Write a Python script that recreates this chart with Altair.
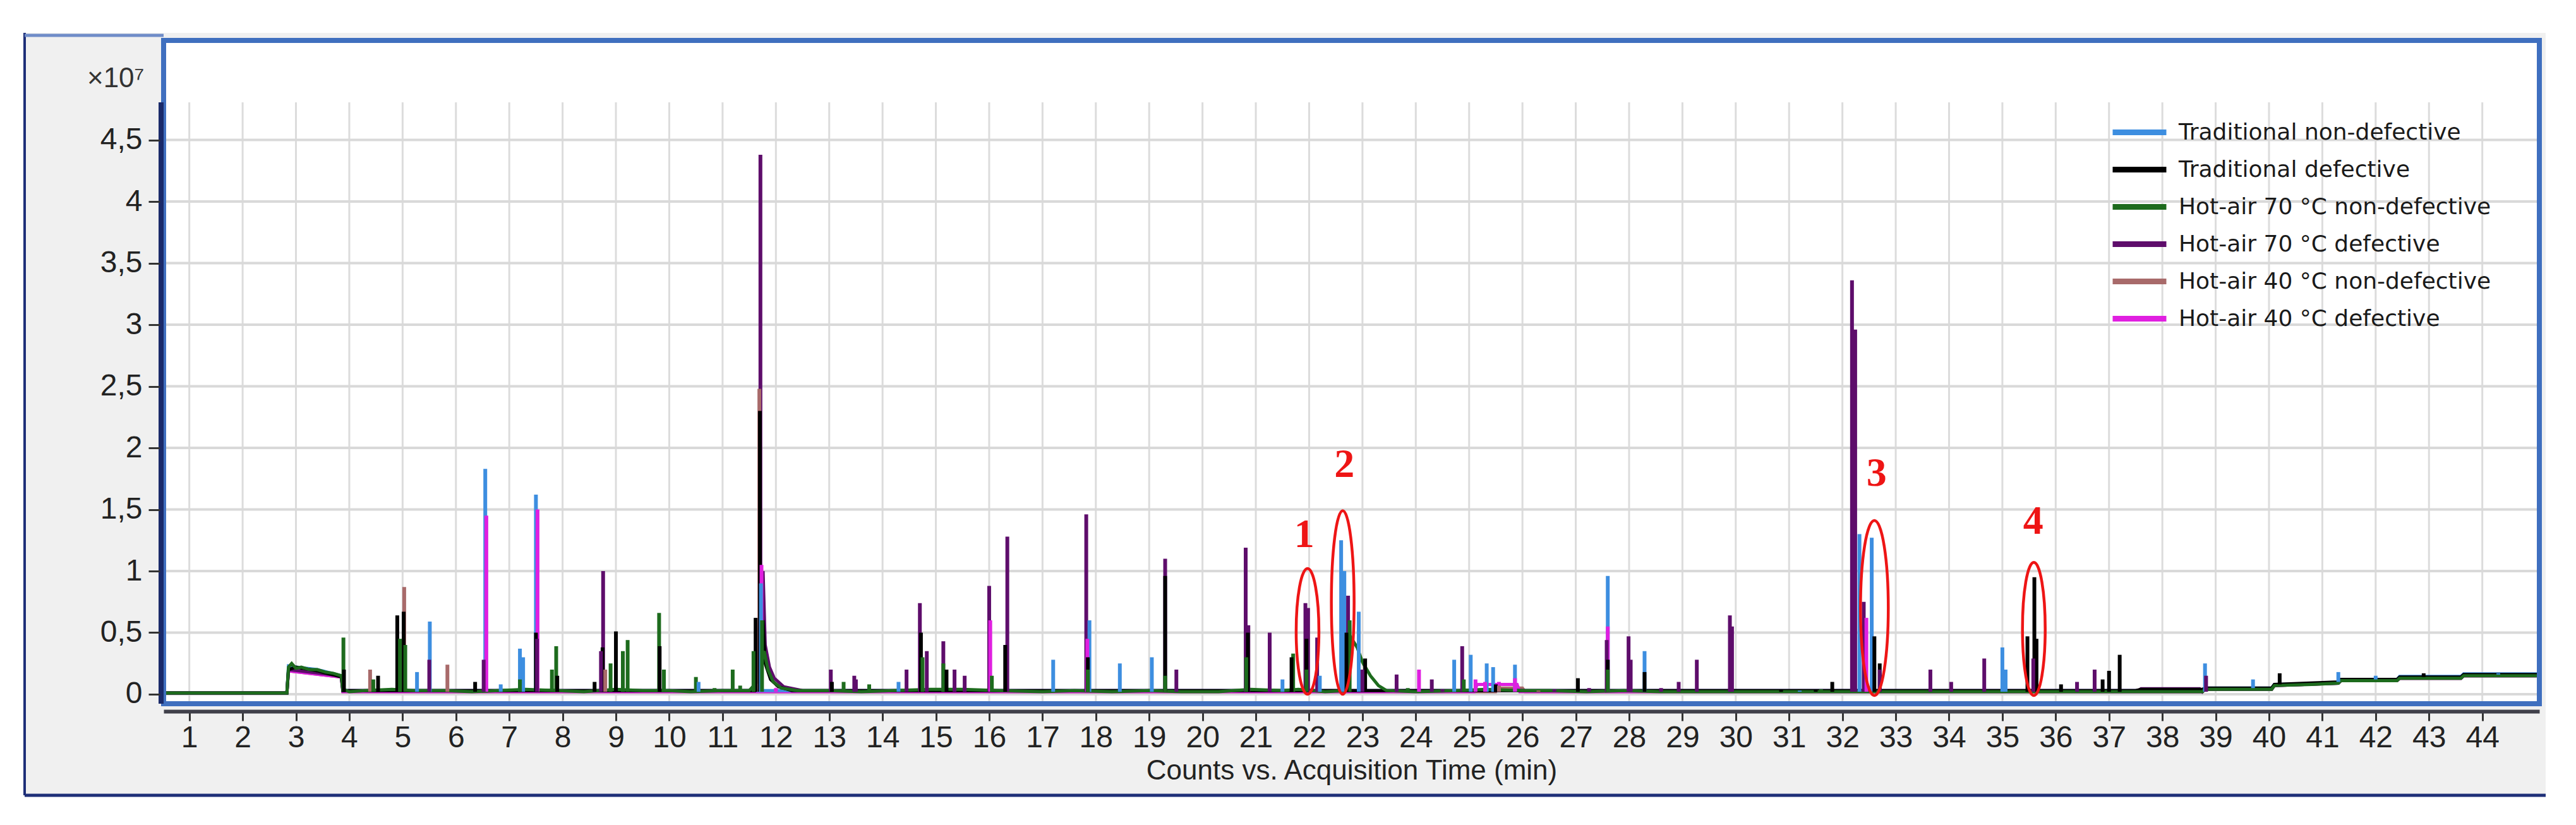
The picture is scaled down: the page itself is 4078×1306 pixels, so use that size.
import altair as alt
import pandas as pd

# ---------------- data ----------------
series_names = [
    "Traditional non-defective",
    "Traditional defective",
    "Hot-air 70 °C non-defective",
    "Hot-air 70 °C defective",
    "Hot-air 40 °C non-defective",
    "Hot-air 40 °C defective",
]
series_colors = ["#3d8ee0", "#000000", "#1d6b1d", "#5e0d6b", "#a86a6a", "#e01fe0"]
codes = ["TN", "TD", "H70N", "H70D", "H40N", "H40D"]

x_ticks = list(range(1, 45))
y_ticks = [0, 0.5, 1, 1.5, 2, 2.5, 3, 3.5, 4, 4.5]

# baseline traces (time min, counts x1e7)
base_H70N = [(0.52, 0.01), (2.83, 0.01), (2.86, 0.22), (2.92, 0.25), (3.0, 0.21), (3.1, 0.22), (3.25, 0.2),
             (3.4, 0.2), (3.55, 0.18), (3.7, 0.17), (3.85, 0.15), (3.88, 0.04), (4.0, 0.02), (4.3, 0.03),
             (4.8, 0.04), (5.2, 0.03), (5.8, 0.03), (6.3, 0.02), (6.8, 0.03), (7.3, 0.04), (7.9, 0.03),
             (8.4, 0.02), (9.0, 0.04), (9.5, 0.03), (10.0, 0.03), (10.4, 0.02), (11.0, 0.03), (11.5, 0.03),
             (11.65, 0.1), (11.78, 0.35), (11.85, 0.2), (11.95, 0.1), (12.1, 0.05), (12.4, 0.03), (13.0, 0.03),
             (13.6, 0.02), (14.2, 0.03), (14.9, 0.04), (15.5, 0.04), (16.2, 0.03), (17.0, 0.02), (17.6, 0.03),
             (18.3, 0.02), (19.0, 0.03), (19.6, 0.02), (20.3, 0.02), (20.9, 0.04), (21.5, 0.03), (21.8, 0.04),
             (22.3, 0.02), (22.7, 0.03), (22.8, 0.45), (22.9, 0.38), (23.0, 0.26), (23.15, 0.15), (23.3, 0.07),
             (23.45, 0.03), (24.0, 0.02), (24.8, 0.03), (25.3, 0.04), (26.0, 0.03), (26.5, 0.03), (27.2, 0.02),
             (27.9, 0.03), (28.6, 0.02), (29.4, 0.02), (30.2, 0.02), (31.0, 0.02), (31.8, 0.02), (32.5, 0.02),
             (33.3, 0.02), (34.0, 0.02), (35.0, 0.02), (36.0, 0.02), (37.0, 0.02), (37.8, 0.02), (38.75, 0.02),
             (38.8, 0.04), (40.05, 0.04), (40.1, 0.07), (40.8, 0.08), (41.3, 0.09), (41.35, 0.11), (42.4, 0.11),
             (42.45, 0.13), (43.6, 0.13), (43.65, 0.15), (45.07, 0.15)]
base_TD = [(0.52, 0.01), (2.83, 0.01), (2.86, 0.2), (3.0, 0.22), (3.4, 0.19), (3.85, 0.14), (3.88, 0.03),
           (11.6, 0.03), (11.76, 0.6), (11.8, 0.25), (11.9, 0.12), (12.05, 0.06), (12.3, 0.03), (37.5, 0.03),
           (37.6, 0.04), (38.75, 0.04), (38.8, 0.05), (40.05, 0.05), (40.1, 0.08), (41.3, 0.1), (41.35, 0.12),
           (42.4, 0.12), (42.45, 0.14), (43.6, 0.14), (43.65, 0.16), (45.07, 0.16)]
base_TN = [(0.52, 0.01), (2.83, 0.01), (2.86, 0.23), (3.0, 0.22), (3.4, 0.2), (3.85, 0.15), (3.88, 0.03),
           (38.75, 0.03), (38.8, 0.05), (40.05, 0.05), (40.1, 0.08), (41.3, 0.09), (41.35, 0.12), (42.4, 0.12),
           (42.45, 0.145), (43.6, 0.145), (43.65, 0.165), (45.07, 0.165)]
base_H70D = [(0.52, 0.01), (2.83, 0.01), (2.86, 0.2), (3.85, 0.15), (3.88, 0.03), (11.6, 0.03), (11.76, 1.0),
             (11.8, 0.4), (11.88, 0.22), (11.97, 0.13), (12.15, 0.06), (12.5, 0.03), (37.55, 0.03), (37.6, 0.045),
             (38.7, 0.045), (38.75, 0.02), (38.8, 0.04), (40.05, 0.04), (40.1, 0.07), (41.3, 0.09), (41.35, 0.11),
             (42.4, 0.11), (42.45, 0.13), (43.6, 0.13), (43.65, 0.15), (45.07, 0.15)]
base_H40N = [(0.52, 0.01), (2.83, 0.01), (2.86, 0.19), (3.85, 0.14), (3.88, 0.02), (25.5, 0.02), (25.55, 0.05),
             (26.0, 0.05), (26.05, 0.02), (38.75, 0.02), (38.8, 0.04), (40.05, 0.04), (40.1, 0.07), (41.3, 0.09),
             (41.35, 0.11), (42.4, 0.11), (42.45, 0.13), (43.6, 0.13), (43.65, 0.15), (45.07, 0.15)]
base_H40D = [(0.52, 0.01), (2.83, 0.01), (2.86, 0.19), (3.85, 0.14), (3.88, 0.02), (25.1, 0.02), (25.15, 0.08),
             (25.9, 0.08), (25.95, 0.02), (38.75, 0.02), (38.8, 0.04), (40.05, 0.04), (40.1, 0.07), (41.3, 0.09),
             (41.35, 0.11), (42.4, 0.11), (42.45, 0.13), (43.6, 0.13), (43.65, 0.15), (45.07, 0.15)]

# peaks: (time, apex, foot)
peaks_TN = [(5.27, 0.18), (5.51, 0.59), (6.55, 1.83), (6.84, 0.08), (7.2, 0.37), (7.26, 0.3), (7.5, 1.62),
            (10.55, 0.1), (11.72, 0.9), (14.3, 0.1), (17.2, 0.28), (17.88, 0.6), (18.45, 0.25), (19.05, 0.3),
            (21.5, 0.12), (22.2, 0.15), (22.6, 1.25), (22.66, 1.0), (22.93, 0.67), (24.72, 0.28), (25.03, 0.32),
            (25.33, 0.25), (25.45, 0.22), (25.86, 0.24), (27.6, 0.96), (28.29, 0.35), (31.2, 0.03),
            (32.32, 1.3), (32.55, 1.27), (35.0, 0.38), (35.06, 0.2), (38.8, 0.25), (39.7, 0.12, 0.05),
            (41.3, 0.18, 0.1), (42.0, 0.15, 0.12), (44.3, 0.17, 0.16)]
peaks_TD = [(3.9, 0.2), (4.54, 0.15), (4.9, 0.64), (5.02, 0.67), (6.36, 0.1), (7.5, 0.5), (7.9, 0.15),
            (8.6, 0.1), (8.75, 0.38), (9.0, 0.51), (9.82, 0.39), (11.62, 0.62), (11.7, 2.3), (13.05, 0.1),
            (14.72, 0.5), (15.2, 0.2), (16.3, 0.4), (17.85, 0.3), (19.3, 0.96), (20.85, 0.5), (21.67, 0.3),
            (21.95, 0.45), (22.7, 0.5), (23.05, 0.29), (25.5, 0.08), (27.04, 0.13), (27.6, 0.28), (28.29, 0.18),
            (30.85, 0.04), (31.5, 0.04), (31.81, 0.1), (32.6, 0.47), (32.7, 0.25), (35.47, 0.47), (35.6, 0.95),
            (35.64, 0.45), (36.1, 0.08), (36.88, 0.12), (37.0, 0.19), (37.2, 0.32), (40.2, 0.17, 0.08),
            (42.9, 0.17, 0.14)]
peaks_H70N = [(3.89, 0.46), (4.45, 0.12), (4.95, 0.45), (5.05, 0.4), (7.2, 0.12), (7.8, 0.2), (7.88, 0.39),
              (8.9, 0.25), (9.13, 0.35), (9.22, 0.44), (9.81, 0.66), (9.9, 0.2), (10.5, 0.14), (10.85, 0.05),
              (11.19, 0.2), (11.33, 0.07), (11.58, 0.35), (11.74, 0.6), (13.27, 0.1), (13.75, 0.08), (14.75, 0.3),
              (15.14, 0.25), (16.05, 0.15), (17.85, 0.2), (19.3, 0.15), (20.82, 0.3), (21.7, 0.33), (21.95, 0.2),
              (22.76, 0.6), (23.85, 0.05), (24.9, 0.12), (27.6, 0.2), (30.35, 0.03), (31.6, 0.04)]
peaks_H70D = [(5.5, 0.28), (6.52, 0.28), (7.52, 0.45), (8.72, 0.35), (8.76, 1.0), (11.71, 4.38), (13.03, 0.2),
              (13.47, 0.15), (13.5, 0.12), (14.45, 0.2), (14.7, 0.74), (14.83, 0.35), (15.14, 0.43), (15.35, 0.2),
              (15.54, 0.15), (16.0, 0.88), (16.34, 1.28), (17.82, 1.46), (19.3, 1.1), (19.51, 0.2), (20.81, 1.19),
              (20.86, 0.56), (21.26, 0.5), (21.93, 0.74), (21.98, 0.7), (22.15, 0.46), (22.73, 0.8), (23.0, 0.2),
              (23.64, 0.16), (24.3, 0.12), (24.5, 0.04), (24.87, 0.39), (26.6, 0.04), (27.25, 0.05), (27.58, 0.44),
              (27.99, 0.47), (28.03, 0.28), (28.6, 0.05), (28.93, 0.1), (29.27, 0.28), (29.89, 0.64), (29.93, 0.55),
              (32.18, 3.36), (32.24, 2.96), (32.4, 0.75), (32.7, 0.2), (33.65, 0.2), (34.04, 0.1), (34.66, 0.29),
              (35.58, 0.29), (36.4, 0.1), (36.73, 0.2), (38.82, 0.15)]
peaks_H40N = [(4.39, 0.2), (5.03, 0.87), (5.84, 0.24), (8.8, 0.2), (11.69, 2.48), (25.56, 0.07), (26.3, 0.03)]
peaks_H40D = [(6.57, 1.45), (7.53, 1.5), (11.73, 1.05), (12.0, 0.05), (16.02, 0.6), (17.84, 0.45), (24.06, 0.2),
              (25.12, 0.12), (25.3, 0.1), (25.56, 0.1), (25.86, 0.13), (27.6, 0.55), (32.45, 0.62)]

# annotations (red ellipses and numbers)
ann_label = ["1", "2", "3", "4"]
ann_time = [21.97, 22.63, 32.6, 35.59]
ann_low = [0.0, 0.0, -0.01, -0.01]
ann_high = [1.02, 1.49, 1.41, 1.07]
ann_text_time = [21.91, 22.66, 32.64, 35.58]
ann_text_value = [1.29, 1.86, 1.79, 1.40]

# ---------------- layout / style ----------------
W, H = 3761, 1050
T0, T1 = 0.518, 45.07
V0, V1 = -0.077, 5.308
GRID_TOP = 4.805
PX_PER_UNIT = H / (V1 - V0)
ELLIPSE_HALF_W = [18, 18, 22, 18]
NARROW = "'Liberation Sans Narrow', 'Arial Narrow', 'Liberation Sans', sans-serif"

name_of = dict(zip(codes, series_names))
bases = {"H40N": base_H40N, "H40D": base_H40D, "TN": base_TN, "H70D": base_H70D, "TD": base_TD, "H70N": base_H70N}
peaks = {"TN": peaks_TN, "TD": peaks_TD, "H70N": peaks_H70N, "H70D": peaks_H70D, "H40N": peaks_H40N, "H40D": peaks_H40D}

peak_rows = []
for code, pts in peaks.items():
    for p in pts:
        peak_rows.append({"series": name_of[code], "t": p[0], "v": p[1], "b": p[2] if len(p) > 2 else 0.02})
peak_df = pd.DataFrame(peak_rows).sort_values("v", ascending=False).reset_index(drop=True)

ell_rows = []
for i, lab in enumerate(ann_label):
    hh = (ann_high[i] - ann_low[i]) / 2 * PX_PER_UNIT
    a = ELLIPSE_HALF_W[i] / hh
    path = f"M0,-1A{a:.4f},1 0 1,1 0,1A{a:.4f},1 0 1,1 0,-1Z"
    ell_rows.append({"t": ann_time[i], "v": (ann_high[i] + ann_low[i]) / 2,
                     "shape": path, "size": (2 * hh) ** 2})
ell_df = pd.DataFrame(ell_rows)
txt_df = pd.DataFrame({"t": ann_text_time, "v": ann_text_value, "label": ann_label})

xs = alt.Scale(domain=[T0, T1], nice=False, zero=False)
ys = alt.Scale(domain=[V0, V1], nice=False, zero=False)
XT = "Counts vs. Acquisition Time (min)"
YT = "×10⁷"
cscale = alt.Scale(domain=series_names, range=series_colors)

x_axis = alt.Axis(values=x_ticks, format="d", zindex=1)
y_axis = alt.Axis(values=y_ticks, labelExpr="replace(format(datum.value, '~g'), '.', ',')", zindex=1)
X = alt.X("t:Q", scale=xs, title=XT, axis=x_axis)
Y = alt.Y("v:Q", scale=ys, title=YT, axis=y_axis)

one = pd.DataFrame({"k": [0]})

panel = alt.Chart(one).mark_rect(color="#f0f0f0").encode(
    x=alt.value(-220), x2=alt.value(3771), y=alt.value(-12), y2=alt.value(1195))
plotbg = alt.Chart(one).mark_rect(color="#ffffff").encode(
    x=alt.value(0), x2=alt.value(W), y=alt.value(0), y2=alt.value(H))
border_l = alt.Chart(one).mark_rule(color="#1e2f78", strokeWidth=4).encode(
    x=alt.value(-220), y=alt.value(-12), y2=alt.value(1195))
border_b = alt.Chart(one).mark_rule(color="#1e2f78", strokeWidth=5).encode(
    y=alt.value(1195), x=alt.value(-220), x2=alt.value(3771))
border_t = alt.Chart(one).mark_rule(color="#6f8cc8", strokeWidth=5).encode(
    y=alt.value(-8), x=alt.value(-220), x2=alt.value(0))

vgrid = alt.Chart(pd.DataFrame({"t": x_ticks})).mark_rule(color="#dcdcdc", strokeWidth=3).encode(
    x=X, y=alt.datum(GRID_TOP), y2=alt.datum(V0))
hgrid = alt.Chart(pd.DataFrame({"v": y_ticks})).mark_rule(color="#d9d9d9", strokeWidth=4).encode(y=Y)

line_layers = []
for code in ["H40N", "H40D", "TN", "H70D", "TD", "H70N"]:
    df = pd.DataFrame([{"series": name_of[code], "t": t, "v": v} for t, v in bases[code]])
    first = len(line_layers) == 0
    legend = alt.Legend(orient="none", legendX=3081, legendY=116, title=None,
                        symbolType="stroke", symbolSize=7225, symbolStrokeWidth=9,
                        clipHeight=59, rowPadding=0, padding=0,
                        labelFont="DejaVu Sans", labelFontSize=36, labelColor="#1a1a1a",
                        labelOffset=15, labelLimit=0, zindex=1) if first else None
    enc_color = alt.Color("series:N", scale=cscale, sort=series_names, legend=legend) if first else \
        alt.Color("series:N", scale=cscale, sort=series_names)
    line_layers.append(alt.Chart(df).mark_line(strokeWidth=5).encode(x=X, y=Y, color=enc_color))

spikes = alt.Chart(peak_df).mark_rule(strokeWidth=6).encode(
    x=X, y=Y, y2="b:Q",
    color=alt.Color("series:N", scale=cscale, sort=series_names),
)

frame = alt.Chart(one).mark_rect(filled=False, stroke="#3f6fbf", strokeWidth=8).encode(
    x=alt.value(0), x2=alt.value(W), y=alt.value(0), y2=alt.value(H))
yline = alt.Chart(one).mark_rule(color="#1a2a6a", strokeWidth=8).encode(
    x=alt.value(-4), y=alt.datum(GRID_TOP), y2=alt.datum(V0))

ellipses = alt.Chart(ell_df).mark_point(filled=False, color="#ee1515", strokeWidth=4.5, opacity=1).encode(
    x=X, y=Y,
    shape=alt.Shape("shape:N", scale=None),
    size=alt.Size("size:Q", scale=None),
)
numbers = alt.Chart(txt_df).mark_text(font="Liberation Serif", fontWeight="bold", fontSize=64,
                                      color="#ee1515", align="center", baseline="middle").encode(
    x=X, y=Y, text="label:N",
)

chart = alt.layer(panel, plotbg, border_l, border_b, border_t, vgrid, hgrid, *line_layers, spikes,
                  frame, yline, ellipses, numbers).properties(
    width=W, height=H,
    padding={"left": 28, "top": 42, "right": 20, "bottom": 20},
).configure_view(stroke="transparent").configure_axisX(
    grid=False, domain=True, domainColor="#40404a", domainWidth=6, offset=12,
    ticks=True, tickColor="#333333", tickWidth=3, tickSize=15,
    labelFont=NARROW, labelFontSize=48, labelColor="#222222", labelPadding=3,
    titleFont="Liberation Sans", titleFontSize=44, titleFontWeight="normal", titleColor="#222222",
    titlePadding=6,
).configure_axisY(
    grid=False, domain=False, offset=6,
    ticks=True, tickColor="#333333", tickWidth=3, tickSize=18,
    labelFont=NARROW, labelFontSize=48, labelColor="#222222", labelPadding=10,
    titleFont="Liberation Sans", titleFontSize=44, titleFontWeight="normal", titleColor="#333333",
    titleAngle=0, titleAlign="right", titleBaseline="alphabetic", titleX=-25, titleY=73,
)

chart.save("out.html", embed_options={"renderer": "svg", "actions": False})
